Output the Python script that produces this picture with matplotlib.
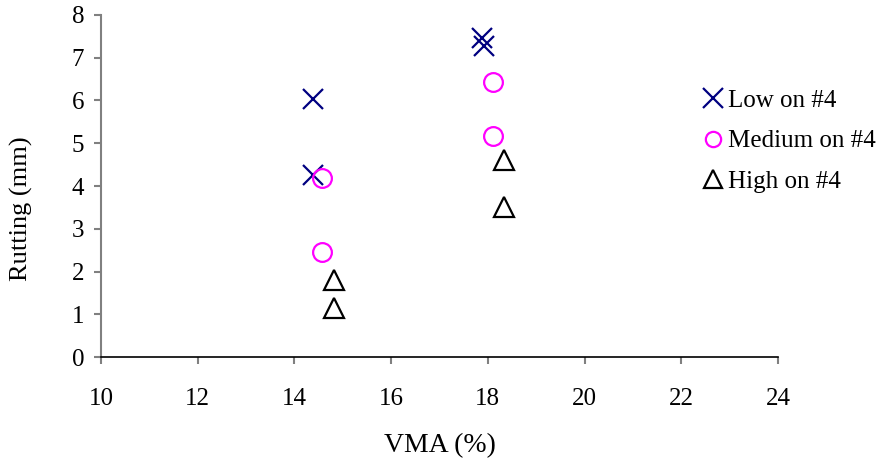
import matplotlib.pyplot as plt

plt.rcParams['font.family'] = ['Liberation Serif', 'DejaVu Serif']

# Data
low_x = [14.39, 14.38, 17.88, 17.93]
low_y = [6.03, 4.25, 7.45, 7.28]
med_x = [18.10, 18.10, 14.58, 14.58]
med_y = [6.43, 5.16, 4.18, 2.45]
high_x = [18.33, 18.33, 14.82, 14.82]
high_y = [4.61, 3.50, 1.80, 1.15]

fig = plt.figure(figsize=(8.86, 4.65), dpi=100)
ax = fig.add_axes([0.114, 0.232, 0.764, 0.736])

ax.plot(low_x, low_y, linestyle='none', marker='x', markersize=15,
        markeredgewidth=1.6, color='#000080', label='Low on #4')
ax.plot(med_x, med_y, linestyle='none', marker='o', markersize=13.5,
        markeredgewidth=1.6, markerfacecolor='none', markeredgecolor='#ff00ff',
        label='Medium on #4')
ax.plot(high_x, high_y, linestyle='none', marker='^', markersize=15,
        markeredgewidth=1.6, markerfacecolor='none', markeredgecolor='black',
        label='High on #4')

ax.set_xlim(10, 24)
ax.set_ylim(0, 8)
ax.set_xticks(range(10, 25, 2))
ax.set_yticks(range(0, 9))

ax.spines['top'].set_visible(False)
ax.spines['right'].set_visible(False)
ax.spines['left'].set_color('#808080')
ax.spines['bottom'].set_color('black')
ax.spines['left'].set_linewidth(1.5)
ax.spines['bottom'].set_linewidth(1.2)
ax.tick_params(direction='out', length=5, width=1.5, color='#808080',
               labelsize=18)
ax.tick_params(axis='y', pad=7)
ax.tick_params(axis='x', pad=17)

ax.set_xlabel('VMA (%)', fontsize=20, labelpad=17)
ax.set_ylabel('Rutting (mm)', fontsize=19)
ax.yaxis.set_label_coords(-0.10, 0.433)

leg = fig.legend(loc='upper left', bbox_to_anchor=(0.7935, 0.808), frameon=False,
                 fontsize=18, handlelength=0.8, handletextpad=0.2,
                 labelspacing=0.72, borderaxespad=0, borderpad=0)
for h, ms in zip(leg.legend_handles, [14, 11, 13]):
    h.set_markersize(ms)

fig.savefig('out.png', dpi=100)
